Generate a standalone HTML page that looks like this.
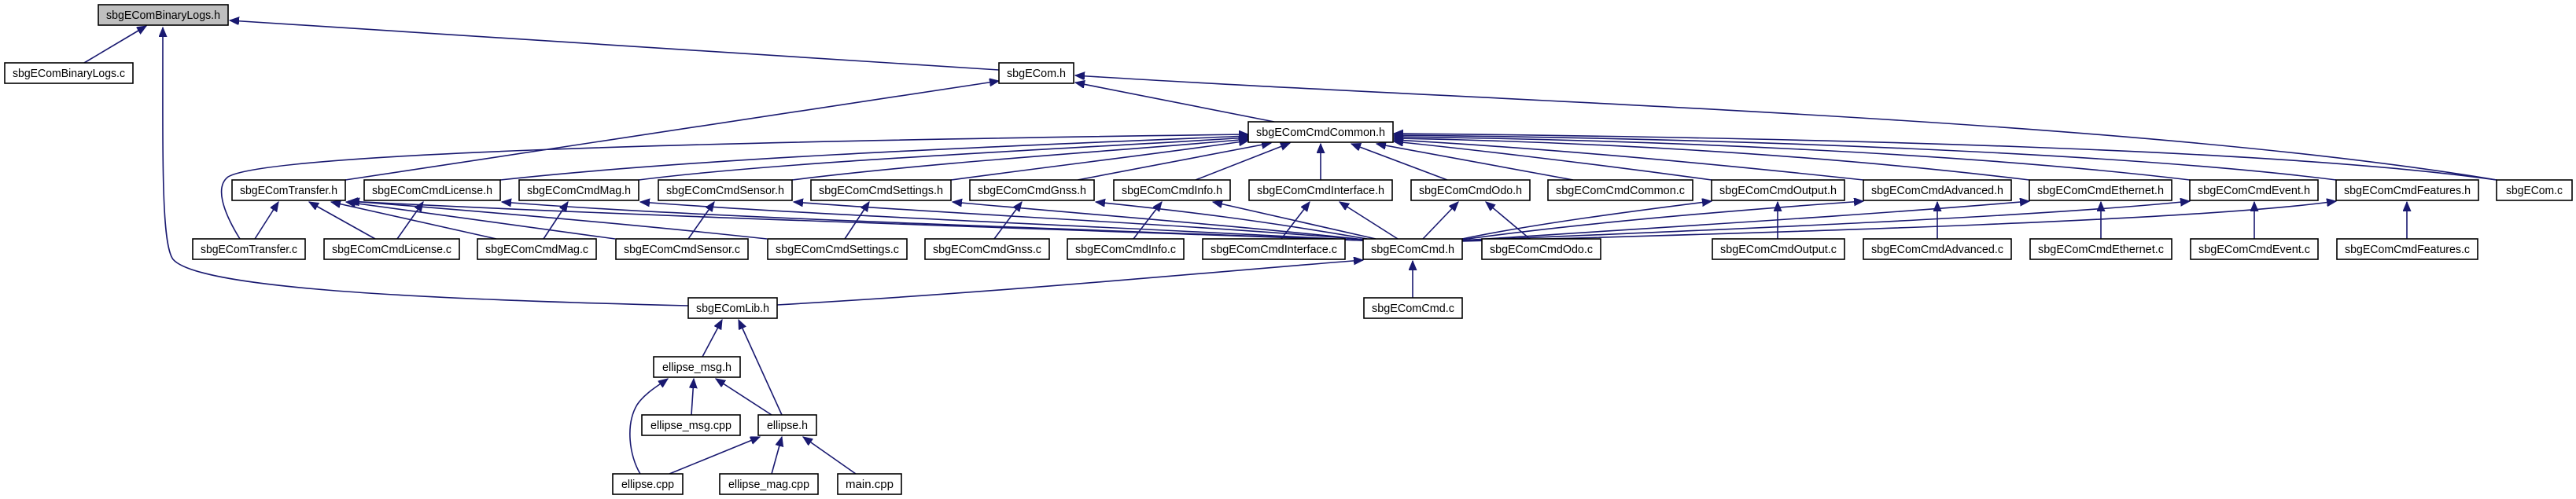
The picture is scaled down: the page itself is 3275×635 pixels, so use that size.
<!DOCTYPE html>
<html><head><meta charset="utf-8"><style>
html,body{margin:0;padding:0;background:#fff}
svg{display:block}
text{font-family:"Liberation Sans",sans-serif;font-size:15px;fill:#000}
.e{fill:none;stroke:#191970;stroke-width:1.6}
.n{fill:#fff;stroke:#000;stroke-width:1.6}
</style></head><body>
<svg width="3275" height="635" viewBox="0 0 3275 635" xmlns="http://www.w3.org/2000/svg">
<defs><marker id="a" markerUnits="userSpaceOnUse" markerWidth="14" markerHeight="12" refX="12" refY="5" orient="auto"><path d="M0,0 L12,5 L0,10 Z" fill="#191970" stroke="#191970"/></marker></defs>
<g class="e" marker-end="url(#a)">
<path d="M107,80 L186,33"/>
<path d="M1270,89 L292,26"/>
<path d="M875,389 C500,380 250,365 220,330 C205,310 207,200 207,35"/>
<path d="M1620,155 L1367,105"/>
<path d="M439,229 L1270,103"/>
<path d="M3174,229 C2700,150 1900,130 1367,96"/>
<path d="M305,304 C290,280 270,240 290,225 C340,195 900,180 1587,171"/>
<path d="M636,229 C900,200 1300,185 1587,173"/>
<path d="M812,229 C1000,205 1350,190 1587,175"/>
<path d="M1007,229 C1200,205 1450,190 1587,177"/>
<path d="M1209,229 C1350,210 1500,192 1587,179"/>
<path d="M1370,229 L1616,182"/>
<path d="M1520,229 L1640,182"/>
<path d="M1679,229 L1679,183"/>
<path d="M1840,229 L1718,183"/>
<path d="M2000,229 L1750,183"/>
<path d="M2176,229 C2000,205 1850,188 1772,180"/>
<path d="M2369,229 C2100,200 1900,185 1772,178"/>
<path d="M2580,229 C2300,195 2000,180 1772,176"/>
<path d="M2784,229 C2500,195 2100,178 1772,174"/>
<path d="M2970,229 C2700,195 2200,176 1772,172"/>
<path d="M3174,229 C2900,190 2300,175 1772,170"/>
<path d="M324,304 L354,257"/>
<path d="M477,304 L393,257"/>
<path d="M631,304 L421,257"/>
<path d="M782,304 L440,257"/>
<path d="M975,304 C800,285 600,268 445,256"/>
<path d="M1733,306 C1300,290 800,275 443,256"/>
<path d="M505,304 L538,257"/>
<path d="M691,304 L722,257"/>
<path d="M875,304 L908,257"/>
<path d="M1074,304 L1105,257"/>
<path d="M1264,304 L1299,257"/>
<path d="M1441,304 L1477,257"/>
<path d="M1629,304 L1665,257"/>
<path d="M1777,304 L1703,257"/>
<path d="M1809,304 L1854,257"/>
<path d="M1945,304 L1889,257"/>
<path d="M1749,304 L1542,257"/>
<path d="M1738,304 C1600,280 1500,268 1393,257"/>
<path d="M1735,305 C1550,285 1350,270 1211,257"/>
<path d="M1734,305 C1500,285 1200,272 1009,257"/>
<path d="M1734,306 C1450,290 1050,275 814,257"/>
<path d="M1734,306 C1400,292 900,278 638,257"/>
<path d="M1859,304 C1950,285 2080,268 2176,256"/>
<path d="M1859,305 C2000,285 2200,268 2369,256"/>
<path d="M1859,306 C2100,290 2400,272 2580,256"/>
<path d="M1859,306 C2200,292 2600,275 2784,256"/>
<path d="M1859,307 C2300,295 2800,280 2970,256"/>
<path d="M2260,304 L2260,257"/>
<path d="M2463,304 L2463,257"/>
<path d="M2671,304 L2671,257"/>
<path d="M2866,304 L2866,257"/>
<path d="M3060,304 L3060,257"/>
<path d="M1796,379 L1796,332"/>
<path d="M988,388 C1300,370 1550,345 1733,331"/>
<path d="M893,454 L918,407"/>
<path d="M994,528 L939,407"/>
<path d="M879,528 L882,482"/>
<path d="M981,528 L910,482"/>
<path d="M814,603 C800,580 795,540 810,515 C820,500 838,490 849,482"/>
<path d="M851,603 L966,556"/>
<path d="M981,603 L994,556"/>
<path d="M1088,603 L1021,556"/>
</g>
<g>
<rect x="125" y="6" width="165" height="26" fill="#bfbfbf" stroke="#000" stroke-width="1.6"/>
<text x="207.5" y="24" text-anchor="middle" textLength="145" lengthAdjust="spacingAndGlyphs">sbgEComBinaryLogs.h</text>
</g>
<g id="nodes"></g>
<g>
<rect class="n" x="6" y="80" width="163" height="26"/><text x="87.5" y="98" text-anchor="middle" textLength="143" lengthAdjust="spacingAndGlyphs">sbgEComBinaryLogs.c</text>
<rect class="n" x="1270" y="80" width="95" height="26"/><text x="1317.5" y="98" text-anchor="middle" textLength="75" lengthAdjust="spacingAndGlyphs">sbgECom.h</text>
<rect class="n" x="1587" y="155" width="184" height="26"/><text x="1679" y="173" text-anchor="middle" textLength="164" lengthAdjust="spacingAndGlyphs">sbgEComCmdCommon.h</text>

<rect class="n" x="295" y="229" width="144" height="26"/><text x="367" y="247" text-anchor="middle" textLength="124" lengthAdjust="spacingAndGlyphs">sbgEComTransfer.h</text>
<rect class="n" x="463" y="229" width="173" height="26"/><text x="549.5" y="247" text-anchor="middle" textLength="153" lengthAdjust="spacingAndGlyphs">sbgEComCmdLicense.h</text>
<rect class="n" x="660" y="229" width="152" height="26"/><text x="736" y="247" text-anchor="middle" textLength="132" lengthAdjust="spacingAndGlyphs">sbgEComCmdMag.h</text>
<rect class="n" x="837" y="229" width="170" height="26"/><text x="922" y="247" text-anchor="middle" textLength="150" lengthAdjust="spacingAndGlyphs">sbgEComCmdSensor.h</text>
<rect class="n" x="1031" y="229" width="178" height="26"/><text x="1120" y="247" text-anchor="middle" textLength="158" lengthAdjust="spacingAndGlyphs">sbgEComCmdSettings.h</text>
<rect class="n" x="1233" y="229" width="158" height="26"/><text x="1312" y="247" text-anchor="middle" textLength="138" lengthAdjust="spacingAndGlyphs">sbgEComCmdGnss.h</text>
<rect class="n" x="1416" y="229" width="148" height="26"/><text x="1490" y="247" text-anchor="middle" textLength="128" lengthAdjust="spacingAndGlyphs">sbgEComCmdInfo.h</text>
<rect class="n" x="1588" y="229" width="182" height="26"/><text x="1679" y="247" text-anchor="middle" textLength="162" lengthAdjust="spacingAndGlyphs">sbgEComCmdInterface.h</text>
<rect class="n" x="1794" y="229" width="151" height="26"/><text x="1869.5" y="247" text-anchor="middle" textLength="131" lengthAdjust="spacingAndGlyphs">sbgEComCmdOdo.h</text>
<rect class="n" x="1968" y="229" width="184" height="26"/><text x="2060" y="247" text-anchor="middle" textLength="164" lengthAdjust="spacingAndGlyphs">sbgEComCmdCommon.c</text>
<rect class="n" x="2176" y="229" width="169" height="26"/><text x="2260.5" y="247" text-anchor="middle" textLength="149" lengthAdjust="spacingAndGlyphs">sbgEComCmdOutput.h</text>
<rect class="n" x="2369" y="229" width="188" height="26"/><text x="2463" y="247" text-anchor="middle" textLength="168" lengthAdjust="spacingAndGlyphs">sbgEComCmdAdvanced.h</text>
<rect class="n" x="2580" y="229" width="181" height="26"/><text x="2670.5" y="247" text-anchor="middle" textLength="161" lengthAdjust="spacingAndGlyphs">sbgEComCmdEthernet.h</text>
<rect class="n" x="2784" y="229" width="163" height="26"/><text x="2865.5" y="247" text-anchor="middle" textLength="143" lengthAdjust="spacingAndGlyphs">sbgEComCmdEvent.h</text>
<rect class="n" x="2970" y="229" width="181" height="26"/><text x="3060.5" y="247" text-anchor="middle" textLength="161" lengthAdjust="spacingAndGlyphs">sbgEComCmdFeatures.h</text>
<rect class="n" x="3174" y="229" width="96" height="26"/><text x="3222" y="247" text-anchor="middle" textLength="72" lengthAdjust="spacingAndGlyphs">sbgECom.c</text>

<rect class="n" x="245" y="304" width="143" height="26"/><text x="316.5" y="322" text-anchor="middle" textLength="123" lengthAdjust="spacingAndGlyphs">sbgEComTransfer.c</text>
<rect class="n" x="412" y="304" width="172" height="26"/><text x="498" y="322" text-anchor="middle" textLength="152" lengthAdjust="spacingAndGlyphs">sbgEComCmdLicense.c</text>
<rect class="n" x="607" y="304" width="151" height="26"/><text x="682.5" y="322" text-anchor="middle" textLength="131" lengthAdjust="spacingAndGlyphs">sbgEComCmdMag.c</text>
<rect class="n" x="783" y="304" width="168" height="26"/><text x="867" y="322" text-anchor="middle" textLength="148" lengthAdjust="spacingAndGlyphs">sbgEComCmdSensor.c</text>
<rect class="n" x="976" y="304" width="177" height="26"/><text x="1064.5" y="322" text-anchor="middle" textLength="157" lengthAdjust="spacingAndGlyphs">sbgEComCmdSettings.c</text>
<rect class="n" x="1176" y="304" width="158" height="26"/><text x="1255" y="322" text-anchor="middle" textLength="138" lengthAdjust="spacingAndGlyphs">sbgEComCmdGnss.c</text>
<rect class="n" x="1357" y="304" width="148" height="26"/><text x="1431" y="322" text-anchor="middle" textLength="128" lengthAdjust="spacingAndGlyphs">sbgEComCmdInfo.c</text>
<rect class="n" x="1529" y="304" width="181" height="26"/><text x="1619.5" y="322" text-anchor="middle" textLength="161" lengthAdjust="spacingAndGlyphs">sbgEComCmdInterface.c</text>
<rect class="n" x="1733" y="304" width="126" height="26"/><text x="1796" y="322" text-anchor="middle" textLength="106" lengthAdjust="spacingAndGlyphs">sbgEComCmd.h</text>
<rect class="n" x="1884" y="304" width="151" height="26"/><text x="1959.5" y="322" text-anchor="middle" textLength="131" lengthAdjust="spacingAndGlyphs">sbgEComCmdOdo.c</text>
<rect class="n" x="2177" y="304" width="168" height="26"/><text x="2261" y="322" text-anchor="middle" textLength="148" lengthAdjust="spacingAndGlyphs">sbgEComCmdOutput.c</text>
<rect class="n" x="2369" y="304" width="188" height="26"/><text x="2463" y="322" text-anchor="middle" textLength="168" lengthAdjust="spacingAndGlyphs">sbgEComCmdAdvanced.c</text>
<rect class="n" x="2581" y="304" width="180" height="26"/><text x="2671" y="322" text-anchor="middle" textLength="160" lengthAdjust="spacingAndGlyphs">sbgEComCmdEthernet.c</text>
<rect class="n" x="2785" y="304" width="162" height="26"/><text x="2866" y="322" text-anchor="middle" textLength="142" lengthAdjust="spacingAndGlyphs">sbgEComCmdEvent.c</text>
<rect class="n" x="2971" y="304" width="179" height="26"/><text x="3060.5" y="322" text-anchor="middle" textLength="159" lengthAdjust="spacingAndGlyphs">sbgEComCmdFeatures.c</text>

<rect class="n" x="875" y="379" width="113" height="26"/><text x="931.5" y="397" text-anchor="middle" textLength="93" lengthAdjust="spacingAndGlyphs">sbgEComLib.h</text>
<rect class="n" x="1734" y="379" width="125" height="26"/><text x="1796.5" y="397" text-anchor="middle" textLength="105" lengthAdjust="spacingAndGlyphs">sbgEComCmd.c</text>
<rect class="n" x="831" y="454" width="110" height="26"/><text x="886" y="472" text-anchor="middle" textLength="88" lengthAdjust="spacingAndGlyphs">ellipse_msg.h</text>
<rect class="n" x="816" y="528" width="125" height="26"/><text x="878.5" y="546" text-anchor="middle" textLength="103" lengthAdjust="spacingAndGlyphs">ellipse_msg.cpp</text>
<rect class="n" x="964" y="528" width="74" height="26"/><text x="1001" y="546" text-anchor="middle" textLength="52" lengthAdjust="spacingAndGlyphs">ellipse.h</text>
<rect class="n" x="779" y="603" width="89" height="26"/><text x="823.5" y="621" text-anchor="middle" textLength="67" lengthAdjust="spacingAndGlyphs">ellipse.cpp</text>
<rect class="n" x="915" y="603" width="125" height="26"/><text x="977.5" y="621" text-anchor="middle" textLength="103" lengthAdjust="spacingAndGlyphs">ellipse_mag.cpp</text>
<rect class="n" x="1065" y="603" width="81" height="26"/><text x="1105.5" y="621" text-anchor="middle" textLength="61" lengthAdjust="spacingAndGlyphs">main.cpp</text>
</g>
</svg>
</body></html>
